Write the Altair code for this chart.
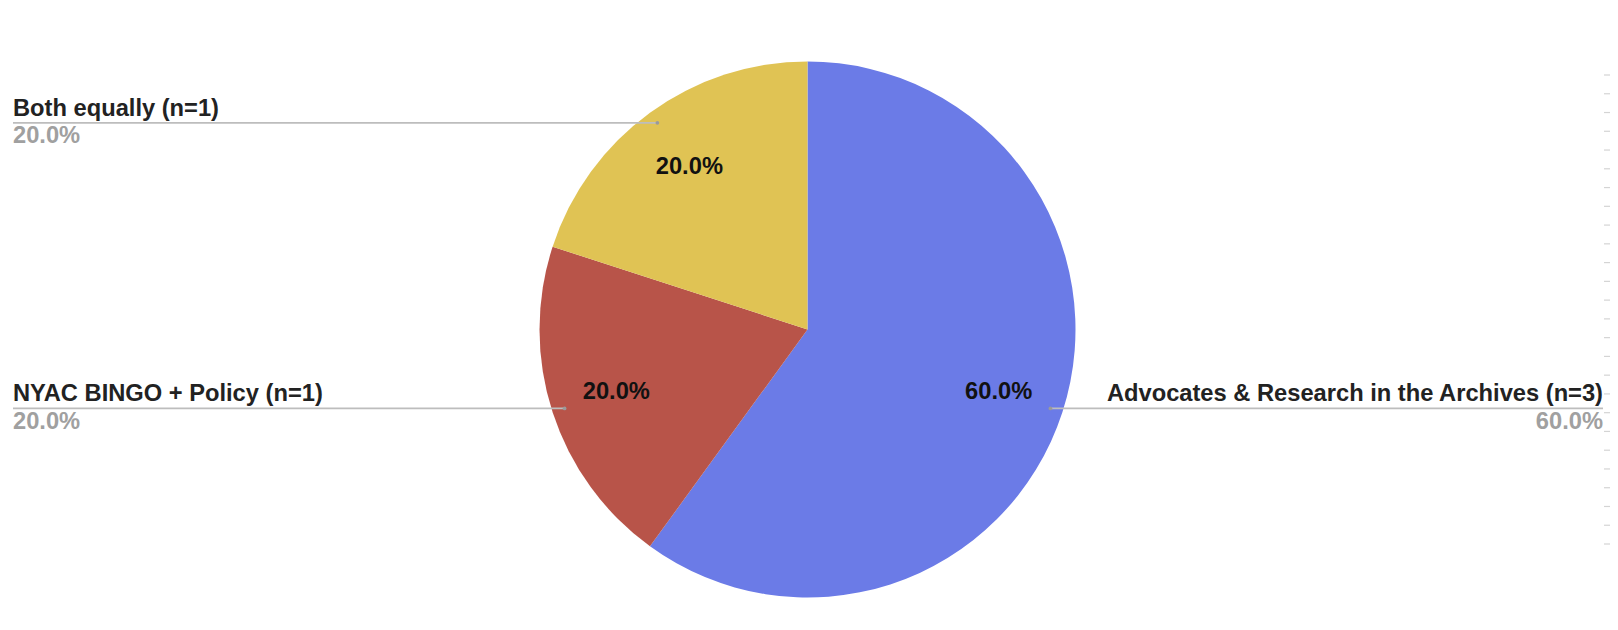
import altair as alt
import pandas as pd

# ---- data ----
categories = [
    "Advocates & Research in the Archives (n=3)",
    "NYAC BINGO + Policy (n=1)",
    "Both equally (n=1)",
]
counts = [3, 1, 1]
colors = ["#6b7be7", "#b85449", "#e0c354"]
dash_rows = list(range(26))  # faint spreadsheet row markers at the right edge

df = pd.DataFrame({"category": categories, "count": counts, "idx": list(range(len(categories)))})
dash_df = pd.DataFrame({"row": dash_rows})

# ---- layout (pixels inside plot area) ----
W, H = 1602, 614
CX, CY, R = 799.5, 321.5, 268
xscale = alt.Scale(domain=[-CX / R, (W - CX) / R], nice=False, zero=False)
yscale = alt.Scale(domain=[-(H - CY) / R, CY / R], nice=False, zero=False)
LEFT_U = (5 - CX) / R
RIGHT_U = (1595 - CX) / R
FONT = "Liberation Sans"
FS = 23.7

base = (
    alt.Chart(df)
    .transform_joinaggregate(total="sum(count)")
    .transform_window(cum="sum(count)", sort=[alt.SortField("idx", order="ascending")])
    .transform_calculate(
        mid="(datum.cum - datum.count/2) / datum.total * 2 * PI",
        pct="format(datum.count / datum.total, '.1%')",
    )
    .transform_calculate(
        ix="0.75 * sin(datum.mid)",
        iy="0.75 * cos(datum.mid)",
        lx="0.953 * sin(datum.mid)",
        ly="0.953 * cos(datum.mid)",
        ex=f"sin(datum.mid) < 0 ? {LEFT_U} : {RIGHT_U}",
    )
)

pie = alt.Chart(df).mark_arc(radius=R).encode(
    theta=alt.Theta("count:Q", stack=True),
    color=alt.Color("category:N", scale=alt.Scale(domain=categories, range=colors), legend=None),
    order=alt.Order("idx:Q"),
    x=alt.XDatum(0, scale=xscale, axis=None),
    y=alt.YDatum(0, scale=yscale, axis=None),
)

inside = base.mark_text(font=FONT, fontSize=FS, fontWeight="bold", color="#111111",
                        align="center", baseline="middle").encode(
    x=alt.X("ix:Q", scale=xscale, axis=None),
    y=alt.Y("iy:Q", scale=yscale, axis=None),
    text="pct:N",
)

leader = base.mark_rule(color="#bdbdbd", strokeWidth=1.6).encode(
    x=alt.X("lx:Q", scale=xscale, axis=None),
    x2="ex:Q",
    y=alt.Y("ly:Q", scale=yscale, axis=None),
)

dot = base.mark_circle(size=14, color="#9a9a9a", opacity=1).encode(
    x=alt.X("lx:Q", scale=xscale, axis=None),
    y=alt.Y("ly:Q", scale=yscale, axis=None),
)

def side_labels(cond, align):
    b = base.transform_filter(cond)
    lab = b.mark_text(font=FONT, fontSize=FS, fontWeight="bold", color="#222222",
                      align=align, baseline="alphabetic", dy=-7).encode(
        x=alt.X("ex:Q", scale=xscale, axis=None),
        y=alt.Y("ly:Q", scale=yscale, axis=None),
        text="category:N",
    )
    val = b.mark_text(font=FONT, fontSize=FS, fontWeight="bold", color="#a0a0a0",
                      align=align, baseline="alphabetic", dy=20.5).encode(
        x=alt.X("ex:Q", scale=xscale, axis=None),
        y=alt.Y("ly:Q", scale=yscale, axis=None),
        text="pct:N",
    )
    return lab + val

left_labels = side_labels("sin(datum.mid) < 0", "left")
right_labels = side_labels("sin(datum.mid) >= 0", "right")

dashes = alt.Chart(dash_df).mark_rule(color="#d4d4d4", strokeWidth=1.2).encode(
    y=alt.Y("row:Q", scale=alt.Scale(domain=[0, 25], range=[67, 536], nice=False, zero=False), axis=None),
    x=alt.value(1596),
    x2=alt.value(1604),
)

chart = (
    alt.layer(pie, leader, dot, inside, left_labels, right_labels, dashes)
    .resolve_scale(y="independent", x="independent")
    .properties(width=W, height=H, autosize=alt.AutoSizeParams(type="none"), padding=0)
    .configure_view(stroke=None)
)

chart.save("out.html", embed_options={"renderer": "svg", "actions": False})
